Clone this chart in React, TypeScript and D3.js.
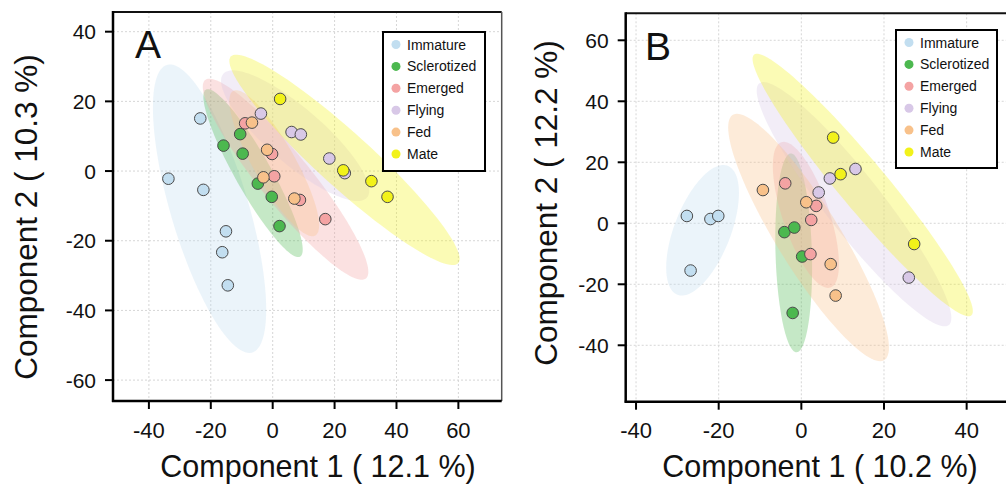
import React from "react";
import * as d3 from "d3";

const groups = ["Immature", "Sclerotized", "Emerged", "Flying", "Fed", "Mate"];
const colors = ["#c2def0", "#4cb84f", "#f4a3a3", "#d8c8e7", "#f8c18a", "#f2f21a"];

// Panel A points
const immatureA = [[-23.4, 15.1], [-33.7, -2.2], [-22.4, -5.4], [-15.1, -17.3], [-16.3, -23.3], [-14.5, -32.8]];
const sclerotizedA = [[-10.5, 10.6], [-15.9, 7.3], [-9.7, 5.0], [-4.8, -3.6], [-0.3, -7.4], [2.2, -15.8]];
const emergedA = [[-8.9, 13.7], [-0.2, 4.9], [0.5, -1.5], [8.8, -8.3], [17.0, -13.8]];
const flyingA = [[-3.8, 16.5], [6.1, 11.2], [9.1, 10.5], [18.3, 3.6], [23.3, -0.6]];
const fedA = [[-6.7, 13.9], [-1.8, 6.1], [-3.0, -1.8], [7.0, -7.9]];
const mateA = [[2.4, 20.7], [22.8, 0.2], [31.9, -2.9], [37.1, -7.4]];

// Panel B points
const immatureB = [[-27.7, 2.4], [-22.0, 1.4], [-20.1, 2.4], [-26.8, -15.5]];
const sclerotizedB = [[-4.1, -2.9], [-1.7, -1.4], [0.2, -10.9], [-2.1, -29.4]];
const emergedB = [[-3.9, 13.1], [3.6, 5.7], [2.4, 1.1], [2.2, -10.1]];
const flyingB = [[4.2, 10.1], [6.9, 14.7], [13.1, 17.8], [26.0, -17.8]];
const fedB = [[-9.3, 10.9], [1.2, 6.9], [7.1, -13.4], [8.3, -23.7]];
const mateB = [[7.7, 28.1], [9.5, 16.1], [27.3, -6.8]];

// Ellipses: [cx, cy, sdx, sdy, rho] per group
const ellipsesA = [
  [-20.4, -10.8, 18.3, 41.4, -0.7],
  [-6.35, -0.6, 16.05, 24.1, -0.91],
  [4.15, -2.35, 26.75, 28.85, -0.92],
  [7.25, 10.15, 23.95, 18.75, -0.84],
  [0.5, 2.25, 14.5, 20.95, -0.85],
  [23.2, 3.2, 37.2, 30.2, -0.94],
];
const ellipsesB = [
  [-23.9, -2.3, 8.8, 21.4, 0.57],
  [-1.85, -9.7, 4.45, 32.6, -0.15],
  [1.1, 2.75, 8.0, 23.95, -0.67],
  [12.75, 6.25, 23.55, 40.05, -0.93],
  [1.75, -4.65, 19.45, 40.55, -0.89],
  [14.85, 12.55, 26.65, 43.05, -0.96],
];

const xTicksA = [-40, -20, 0, 20, 40, 60];
const yTicksA = [40, 20, 0, -20, -40, -60];
const xTicksB = [-40, -20, 0, 20, 40];
const yTicksB = [60, 40, 20, 0, -20, -40];

const FONT = "'Liberation Sans', Arial, sans-serif";

function ellipsePoints(e: number[]) {
  const [cx, cy, sx, sy, r] = e;
  const pts: [number, number][] = [];
  const k = Math.sqrt(1 - r * r);
  for (let i = 0; i < 120; i++) {
    const t = (i / 120) * Math.PI * 2;
    pts.push([cx + sx * Math.cos(t), cy + sy * (r * Math.cos(t) + k * Math.sin(t))]);
  }
  return pts;
}

function Panel(props: any) {
  const { left, right, top, bottom, xDom, yDom, xTicks, yTicks, points, ellipses, label, legend, xTitle, yTitle, xTitleX, yTitleX, yTitleY, labelX, labelY } = props;
  const x = d3.scaleLinear().domain(xDom).range([left, right]);
  const y = d3.scaleLinear().domain(yDom).range([bottom, top]);
  const line = d3.line<[number, number]>().x((d) => x(d[0])).y((d) => y(d[1])).curve(d3.curveLinearClosed);
  const clipId = "clip" + label;
  return (
    <g>
      <defs>
        <clipPath id={clipId}>
          <rect x={left} y={top} width={right - left} height={bottom - top} />
        </clipPath>
      </defs>
      <g clipPath={`url(#${clipId})`}>
        {xTicks.map((t: number) => (
          <line key={"gx" + t} x1={x(t)} x2={x(t)} y1={top} y2={bottom} stroke="#d6d6d6" strokeWidth={1} strokeDasharray="2,2" />
        ))}
        {yTicks.map((t: number) => (
          <line key={"gy" + t} x1={left} x2={right} y1={y(t)} y2={y(t)} stroke="#d6d6d6" strokeWidth={1} strokeDasharray="2,2" />
        ))}
        {ellipses.map((e: number[], i: number) => (
          <path key={"e" + i} d={line(ellipsePoints(e)) || ""} fill={colors[i]} fillOpacity={0.32} stroke="none" />
        ))}
        {points.map((arr: number[][], gi: number) =>
          arr.map((p, j) => (
            <circle key={"p" + gi + "-" + j} cx={x(p[0])} cy={y(p[1])} r={5.8} fill={colors[gi]} stroke="#4a4a4a" strokeWidth={1} />
          ))
        )}
      </g>
      <line x1={left} x2={right} y1={top} y2={top} stroke="#111" strokeWidth={2} />
      <line x1={right} x2={right} y1={top} y2={bottom} stroke="#555" strokeWidth={1.5} />
      <line x1={left} x2={left} y1={top - 1} y2={bottom + 1} stroke="#000" strokeWidth={2.5} />
      <line x1={left - 1} x2={right} y1={bottom} y2={bottom} stroke="#000" strokeWidth={2.5} />
      {xTicks.map((t: number) => (
        <g key={"xt" + t}>
          <line x1={x(t)} x2={x(t)} y1={bottom} y2={bottom + 8} stroke="#000" strokeWidth={2} />
          <text x={x(t)} y={438} textAnchor="middle" fontFamily={FONT} fontSize={22} fill="#111">{t}</text>
        </g>
      ))}
      {yTicks.map((t: number) => (
        <g key={"yt" + t}>
          <line x1={left - 8} x2={left} y1={y(t)} y2={y(t)} stroke="#000" strokeWidth={2} />
          <text x={left - 17} y={y(t) + 7.5} textAnchor="end" fontFamily={FONT} fontSize={21} fill="#111">{t}</text>
        </g>
      ))}
      <text x={labelX} y={labelY} fontFamily={FONT} fontSize={39} fill="#111">{label}</text>
      <text x={xTitleX} y={477} textAnchor="middle" fontFamily={FONT} fontSize={30.5} fill="#111">{xTitle}</text>
      <text transform={`translate(${yTitleX},${yTitleY}) rotate(-90)`} textAnchor="middle" fontFamily={FONT} fontSize={31.5} fill="#111">{yTitle}</text>
      <g>
        <rect x={legend.x} y={legend.y} width={legend.w} height={legend.h} fill="#fff" stroke="#000" strokeWidth={2} />
        {groups.map((g, i) => (
          <g key={"lg" + g}>
            <circle cx={legend.x + 13} cy={legend.y + 12.5 + i * 21.9} r={4.5} fill={colors[i]} />
            <text x={legend.x + 24} y={legend.y + 17.5 + i * 21.9} fontFamily={FONT} fontSize={14} fill="#111">{g}</text>
          </g>
        ))}
      </g>
    </g>
  );
}

export default function App() {
  const pointsA = [immatureA, sclerotizedA, emergedA, flyingA, fedA, mateA];
  const pointsB = [immatureB, sclerotizedB, emergedB, flyingB, fedB, mateB];
  return (
    <svg width={1006} height={486} style={{ position: "absolute", left: 0, top: 0, background: "#fff" }}>
      <rect x={0} y={0} width={1006} height={486} fill="#fff" />
      <Panel
        left={113} right={501.7} top={12} bottom={401}
        xDom={[-51.6, 74.0]} yDom={[-66.0, 45.65]}
        xTicks={xTicksA} yTicks={yTicksA}
        points={pointsA} ellipses={ellipsesA}
        label="A" labelX={135} labelY={58}
        legend={{ x: 383, y: 32, w: 102, h: 139 }}
        xTitle="Component 1 ( 12.1 %)" xTitleX={318}
        yTitle="Component 2 ( 10.3 %)" yTitleX={37} yTitleY={217}
      />
      <Panel
        left={625.7} right={1015} top={13.3} bottom={401.7}
        xDom={[-42.5, 51.7]} yDom={[-58.5, 68.85]}
        xTicks={xTicksB} yTicks={yTicksB}
        points={pointsB} ellipses={ellipsesB}
        label="B" labelX={645} labelY={60}
        legend={{ x: 896, y: 30, w: 101, h: 138 }}
        xTitle="Component 1 ( 10.2 %)" xTitleX={820}
        yTitle="Component 2 ( 12.2 %)" yTitleX={557} yTitleY={203}
      />
    </svg>
  );
}
